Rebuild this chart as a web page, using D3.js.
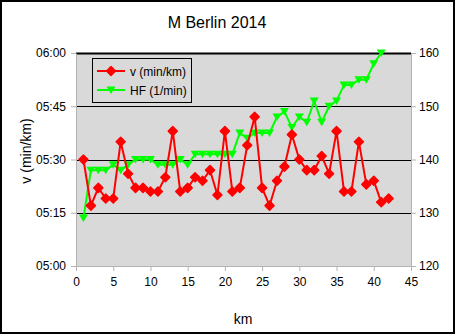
<!DOCTYPE html>
<html><head><meta charset="utf-8">
<script src="https://cdn.jsdelivr.net/npm/d3@7"></script>
<style>
body{margin:0;background:#fff;}
text{font-family:"Liberation Sans",Arial,sans-serif;}
</style></head>
<body>
<svg id="chart" width="455" height="334"></svg>
<script>
// ---- data ----
const title = "M Berlin 2014";
const km = d3.range(1, 43);
// pace per km in seconds (min:ss)
const pace = [330,317,322,319,319,335,326,322,322,321,321,325,338,321,322,325,324,327,320,338,
              321,322,334,342,322,317,324,328,337,330,327,327,331,326,338,321,321,335,323,324,318,319];
// heart rate (1/min), km 1..41
const hf = [129,138,138,138,139,138,139,140,140,140,139,139,139,140,139,141,141,141,141,141,
            141,145,144,145,145,145,148,149,146,148,147,151,147,150,151,154,154,155,155,158,160];
const xTicks = [0,5,10,15,20,25,30,35,40,45];
const paceTicks = [300,315,330,345,360];
const paceTickLabels = ["05:00","05:15","05:30","05:45","06:00"];
const hfTicks = [120,130,140,150,160];
const seriesNames = ["v (min/km)","HF (1/min)"];
const colors = ["#ff0000","#00ff00"];

// ---- layout ----
const W = 455, H = 334;
const L = 76, R = 411, T = 53, B = 266;
const svg = d3.select("#chart");

svg.append("rect").attr("x",1).attr("y",1).attr("width",W-2).attr("height",H-2)
  .attr("fill","#fff").attr("stroke","#000").attr("stroke-width",2);

const x = d3.scaleLinear().domain([0,45]).range([L,R]);
const yL = d3.scaleLinear().domain([300,360]).range([B,T]);
const yR = d3.scaleLinear().domain([120,160]).range([B,T]);

// plot background
svg.append("rect").attr("x",L).attr("y",T).attr("width",R-L).attr("height",B-T).attr("fill","#d9d9d9");

// gridlines
svg.append("g").selectAll("line").data(paceTicks.slice(1)).join("line")
  .attr("x1",L).attr("x2",R)
  .attr("y1",d=>Math.round(yL(d))+0.5).attr("y2",d=>Math.round(yL(d))+0.5)
  .attr("stroke","#000").attr("stroke-width",d=>d===360?2:1);

// axes
const axisColor = "#b3b3b3";
function styleAxis(g){
  g.select(".domain").attr("stroke",axisColor);
  g.selectAll(".tick line").attr("stroke",axisColor);
  g.selectAll(".tick text").attr("fill","#000").style("font-family","'Liberation Sans',Arial,sans-serif");
}
const gx = svg.append("g").attr("transform",`translate(0,${B})`)
  .call(d3.axisBottom(x).tickValues(xTicks).tickSize(5).tickSizeOuter(0).tickPadding(6));
styleAxis(gx); gx.selectAll(".tick text").attr("font-size",12);

const gl = svg.append("g").attr("transform",`translate(${L},0)`)
  .call(d3.axisLeft(yL).tickValues(paceTicks).tickFormat((d,i)=>paceTickLabels[i]).tickSize(5).tickSizeOuter(0).tickPadding(5));
styleAxis(gl); gl.selectAll(".tick text").attr("font-size",12);

const gr = svg.append("g").attr("transform",`translate(${R},0)`)
  .call(d3.axisRight(yR).tickValues(hfTicks).tickSize(5).tickSizeOuter(0).tickPadding(3));
styleAxis(gr); gr.selectAll(".tick text").attr("font-size",12);

// titles
svg.append("text").attr("x",217).attr("y",28).attr("text-anchor","middle").attr("font-size",16).text(title);
svg.append("text").attr("transform","translate(31,151) rotate(-90)").attr("text-anchor","middle").attr("font-size",14).text("v (min/km)");
svg.append("text").attr("x",243).attr("y",324).attr("text-anchor","middle").attr("font-size",14).text("km");

// markers
const diamond = "M0,-4.5L4.5,0L0,4.5L-4.5,0Z";
const tri = "M-4.5,-3.5L4.5,-3.5L0,4Z";

// HF series
const hfData = hf.map((v,i)=>({k:km[i],v}));
svg.append("path").datum(hfData)
  .attr("d",d3.line().x(d=>x(d.k)).y(d=>yR(d.v)))
  .attr("fill","none").attr("stroke",colors[1]).attr("stroke-width",2);
svg.append("g").selectAll("path").data(hfData).join("path")
  .attr("transform",d=>`translate(${x(d.k)},${yR(d.v)})`).attr("d",tri).attr("fill",colors[1]);

// pace series
const pData = pace.map((v,i)=>({k:km[i],v}));
svg.append("path").datum(pData)
  .attr("d",d3.line().x(d=>x(d.k)).y(d=>yL(d.v)))
  .attr("fill","none").attr("stroke",colors[0]).attr("stroke-width",2);
svg.append("g").selectAll("path").data(pData).join("path")
  .attr("transform",d=>`translate(${x(d.k)},${yL(d.v)})`).attr("d",diamond)
  .attr("fill",colors[0]).attr("stroke",colors[0]).attr("stroke-width",1.5).attr("stroke-linejoin","round");

// legend
const lg = svg.append("g");
lg.append("rect").attr("x",92.5).attr("y",58.5).attr("width",99).attr("height",44)
  .attr("fill","#d9d9d9").attr("stroke","#000").attr("stroke-width",1);
const items = [{n:seriesNames[0],c:colors[0],m:diamond,y:71},{n:seriesNames[1],c:colors[1],m:tri,y:90}];
items.forEach(it=>{
  lg.append("line").attr("x1",97).attr("x2",125).attr("y1",it.y).attr("y2",it.y).attr("stroke",it.c).attr("stroke-width",2);
  lg.append("path").attr("transform",`translate(111,${it.y})`).attr("d",it.m).attr("fill",it.c)
    .attr("stroke",it.m===diamond?it.c:"none").attr("stroke-width",1.5).attr("stroke-linejoin","round");
  lg.append("text").attr("x",130).attr("y",it.y+4.5).attr("font-size",12).text(it.n);
});
</script>
</body></html>
